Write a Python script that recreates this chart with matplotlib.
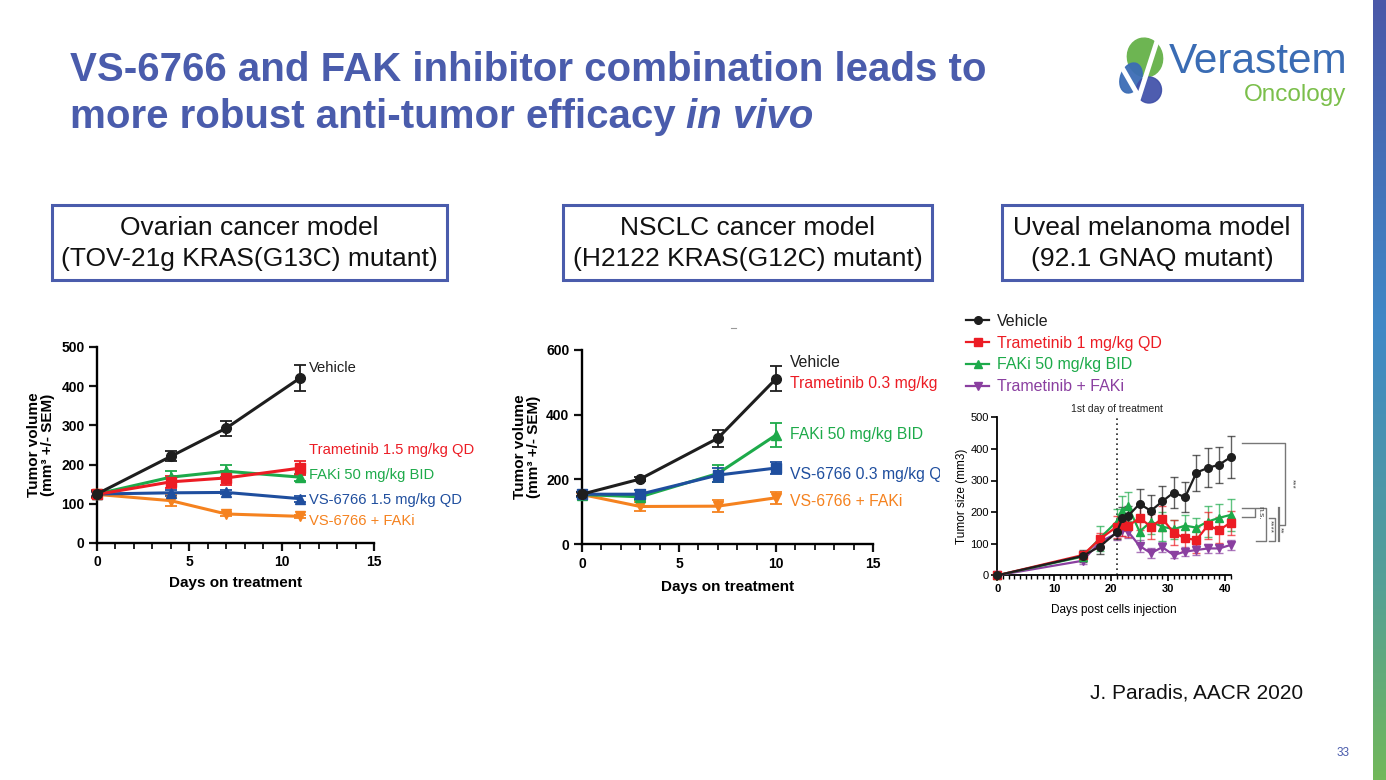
import numpy as np
import matplotlib
matplotlib.use('Agg')
import matplotlib.pyplot as plt
from matplotlib.patches import Rectangle, Ellipse
from matplotlib.lines import Line2D
from matplotlib.colors import LinearSegmentedColormap
from matplotlib.transforms import Bbox, TransformedBbox
from matplotlib.ticker import MultipleLocator

plt.rcParams['font.family'] = ['Liberation Sans', 'DejaVu Sans']

# ---------------- data ----------------
# Ovarian (TOV-21g)
ov_days = [0, 4, 7, 11]
ov_vehicle = [125, 221, 293, 421]
ov_vehicle_err = [8, 13, 19, 33]
ov_tram = [124, 156, 166, 191]
ov_tram_err = [10, 15, 18, 18]
ov_faki = [125, 168, 183, 168]
ov_faki_err = [8, 15, 15, 9]
ov_vs = [125, 128, 129, 113]
ov_vs_err = [6, 8, 5, 8]
ov_combo = [124, 108, 74, 68]
ov_combo_err = [8, 14, 4, 4]
ov_labels = ["Vehicle", "Trametinib 1.5 mg/kg QD", "FAKi 50 mg/kg BID",
             "VS-6766 1.5 mg/kg QD", "VS-6766 + FAKi"]

# NSCLC (H2122)
ns_days = [0, 3, 7, 10]
ns_vehicle = [154, 201, 327, 511]
ns_vehicle_err = [6, 6, 27, 39]
ns_faki = [153, 146, 218, 337]
ns_faki_err = [8, 10, 25, 38]
ns_vs = [154, 154, 213, 235]
ns_vs_err = [8, 14, 22, 20]
ns_combo = [153, 116, 117, 143]
ns_combo_err = [6, 15, 18, 18]
ns_labels = ["Vehicle", "Trametinib 0.3 mg/kg QD", "FAKi 50 mg/kg BID",
             "VS-6766 0.3 mg/kg QD", "VS-6766 + FAKi"]

# Uveal melanoma (92.1)
uv_days = [0, 15, 18, 21, 22, 23, 25, 27, 29, 31, 33, 35, 37, 39, 41]
uv_vehicle = [0, 61, 91, 136, 180, 188, 226, 204, 234, 262, 247, 325, 340, 350, 374]
uv_vehicle_err = [0, 18, 25, 22, 35, 30, 48, 50, 48, 50, 48, 57, 62, 57, 67]
uv_tram = [0, 64, 114, 154, 159, 156, 182, 154, 179, 135, 117, 112, 158, 143, 167]
uv_tram_err = [0, 10, 20, 35, 35, 35, 40, 40, 40, 40, 40, 40, 42, 40, 38]
uv_faki = [0, 59, 117, 170, 205, 218, 138, 170, 154, 146, 157, 151, 170, 182, 191]
uv_faki_err = [0, 10, 40, 40, 45, 45, 40, 40, 45, 30, 35, 30, 50, 45, 50]
uv_combo = [0, 46, 105, 133, 143, 138, 93, 70, 89, 64, 75, 80, 85, 85, 96]
uv_combo_err = [0, 10, 15, 20, 20, 20, 20, 15, 15, 10, 15, 15, 15, 15, 15]
uv_labels = ["Vehicle", "Trametinib 1 mg/kg QD", "FAKi 50 mg/kg BID", "Trametinib + FAKi"]
treatment_start = 21

box_titles = [("Ovarian cancer model", "(TOV-21g KRAS(G13C) mutant)"),
              ("NSCLC cancer model", "(H2122 KRAS(G12C) mutant)"),
              ("Uveal melanoma model", "(92.1 GNAQ mutant)")]

title1 = "VS-6766 and FAK inhibitor combination leads to"
title2a = "more robust anti-tumor efficacy"
title2b = "in vivo"

# ---------------- styles ----------------
W, H = 1386, 780
BLUE_T = '#4A5CAC'
C_BLACK = '#1e1e1e'
C_RED = '#EC1C24'
C_GREEN = '#1DAA4A'
C_BLUE = '#1F4E9E'
C_ORANGE = '#F5821F'
C_PURPLE = '#8A3FA0'

fig = plt.figure(figsize=(W / 100, H / 100), dpi=100)
fig.patch.set_facecolor('white')


def fx(px):
    return px / W


def fy(py):
    return 1 - py / H


def axes_px(x0, x1, ybot, ytop):
    return fig.add_axes([fx(x0), fy(ybot), (x1 - x0) / W, (ybot - ytop) / H])


# ---------------- title ----------------
TS = 29
fig.text(fx(70), fy(81), title1, fontsize=TS, fontweight='bold', color=BLUE_T,
         ha='left', va='baseline')
t2 = fig.text(fx(70), fy(128), title2a, fontsize=TS, fontweight='bold', color=BLUE_T,
              ha='left', va='baseline')
fig.canvas.draw()
r = fig.canvas.get_renderer()
bb = t2.get_window_extent(renderer=r)
fig.text((bb.x1 + 10) / W, fy(128), title2b, fontsize=TS, fontweight='bold',
         style='italic', color=BLUE_T, ha='left', va='baseline')

# ---------------- logo ----------------
lax = fig.add_axes([fx(1110), fy(110), 70 / W, 80 / H])
lax.set_xlim(1110, 1180)
lax.set_ylim(110, 30)
lax.axis('off')
lax.add_patch(Ellipse((1145, 57.5), 35, 39, angle=-15, color='#6DB552'))
lax.add_patch(Ellipse((1131, 78), 21, 31, angle=20, color='#3C6DB5', alpha=0.95))
lax.add_patch(Ellipse((1149, 90), 25, 26, angle=0, color='#3F4FA8', alpha=0.92))
lax.add_line(Line2D([1120, 1139, 1158], [64, 97, 38], color='white', lw=3.5,
                    solid_joinstyle='miter'))
fig.text(fx(1169), fy(73), "Verastem", fontsize=30.5, color='#3A6CB4', ha='left',
         va='baseline')
fig.text(fx(1346), fy(101), "Oncology", fontsize=17.5, color='#7BBF4B', ha='right',
         va='baseline')

# gradient bar at right edge
gax = fig.add_axes([fx(1373), 0, 13 / W, 1])
gcm = LinearSegmentedColormap.from_list('g', [(0, '#4B58A8'), (0.42, '#3F88C6'),
                                              (0.75, '#54A096'), (1, '#72B85A')])
gax.imshow(np.linspace(0, 1, 256)[:, None], aspect='auto', cmap=gcm)
gax.axis('off')

# ---------------- boxes ----------------
box_px = [(52, 447), (563, 932), (1002, 1302)]
for (x0, x1), (l1, l2) in zip(box_px, box_titles):
    fig.add_artist(Rectangle((fx(x0), fy(280)), (x1 - x0) / W, 75 / H,
                             transform=fig.transFigure, fill=False,
                             edgecolor=BLUE_T, lw=2.2))
    xc = fx((x0 + x1) / 2)
    fig.text(xc, fy(228), l1, fontsize=19, ha='center', va='center', color='#111111')
    fig.text(xc, fy(259), l2, fontsize=19, ha='center', va='center', color='#111111')


def style_main(ax, ymax, ystep):
    ax.set_xlim(0, 15)
    ax.set_ylim(0, ymax)
    for s in ['top', 'right']:
        ax.spines[s].set_visible(False)
    for s in ['left', 'bottom']:
        ax.spines[s].set_linewidth(1.7)
    ax.set_xticks([0, 5, 10, 15])
    ax.set_xticklabels(['0', '5', '10', '15'], fontweight='bold', fontsize=10)
    yt = list(range(0, ymax + 1, ystep))
    ax.set_yticks(yt)
    ax.set_yticklabels([str(v) for v in yt], fontweight='bold', fontsize=10)
    ax.xaxis.set_minor_locator(MultipleLocator(1))
    ax.tick_params(which='major', length=6, width=1.6, pad=3, color='#111111')
    ax.tick_params(which='minor', length=4, width=1.3, color='#111111')
    ax.patch.set_alpha(0)


def eb(ax, x, y, e, c, m, ms=7, lw=2.2, cap=4):
    return ax.errorbar(x, y, yerr=e, color=c, marker=m, ms=ms, lw=lw, capsize=cap,
                       capthick=1.3, elinewidth=1.3, clip_on=False, zorder=3)


# ---------------- chart 1 ----------------
ax1 = axes_px(97, 374, 543, 347)
style_main(ax1, 500, 100)
eb(ax1, ov_days, ov_combo, ov_combo_err, C_ORANGE, 'v')
eb(ax1, ov_days, ov_vs, ov_vs_err, C_BLUE, '^')
eb(ax1, ov_days, ov_faki, ov_faki_err, C_GREEN, '^')
eb(ax1, ov_days, ov_tram, ov_tram_err, C_RED, 's')
eb(ax1, ov_days, ov_vehicle, ov_vehicle_err, C_BLACK, 'o')
ax1.set_xlabel("Days on treatment", fontsize=11, fontweight='bold')
ax1.xaxis.set_label_coords(0.5, -0.17)
ax1.set_ylabel("Tumor volume\n(mm³ +/- SEM)", fontsize=11, fontweight='bold',
               linespacing=1.05)
ax1.yaxis.set_label_coords(-0.15, 0.5)
ov_label_y = [446, 237, 174, 110, 56]
ov_colors = [C_BLACK, C_RED, C_GREEN, C_BLUE, C_ORANGE]
for lab, yy, c in zip(ov_labels, ov_label_y, ov_colors):
    ax1.text(11.5, yy, lab, color=c, fontsize=10.6, va='center', ha='left', clip_on=False)

# ---------------- chart 2 ----------------
ax2 = axes_px(582, 873, 544, 350)
style_main(ax2, 600, 200)
eb(ax2, ns_days, ns_combo, ns_combo_err, C_ORANGE, 'v')
eb(ax2, ns_days, ns_faki, ns_faki_err, C_GREEN, '^')
eb(ax2, ns_days, ns_vs, ns_vs_err, C_BLUE, 's')
eb(ax2, ns_days, ns_vehicle, ns_vehicle_err, C_BLACK, 'o')
ax2.set_xlabel("Days on treatment", fontsize=11, fontweight='bold')
ax2.xaxis.set_label_coords(0.5, -0.185)
ax2.set_ylabel("Tumor volume\n(mm³ +/- SEM)", fontsize=11, fontweight='bold',
               linespacing=1.05)
ax2.yaxis.set_label_coords(-0.14, 0.5)
ns_label_y = [560, 495, 340, 216, 130]
clipbox = TransformedBbox(Bbox.from_extents(0, 0, fx(940), 1), fig.transFigure)
for lab, yy, c in zip(ns_labels, ns_label_y, ov_colors):
    t = ax2.text(10.72, yy, lab, color=c, fontsize=11.3, va='center', ha='left')
    t.set_clip_on(True)
    t.set_clip_box(clipbox)
fig.add_artist(Line2D([fx(731), fx(736)], [fy(328), fy(328)], color='#999999', lw=0.8))

# ---------------- chart 3 ----------------
ax3 = axes_px(997.3, 1230.6, 575.3, 417.3)
ax3.set_xlim(0, 41)
ax3.set_ylim(0, 500)
for s in ['top', 'right']:
    ax3.spines[s].set_visible(False)
for s in ['left', 'bottom']:
    ax3.spines[s].set_linewidth(1.3)
ax3.set_xticks([0, 10, 20, 30, 40])
ax3.set_xticklabels(['0', '10', '20', '30', '40'], fontweight='bold', fontsize=8)
ax3.set_yticks([0, 100, 200, 300, 400, 500])
ax3.set_yticklabels(['0', '100', '200', '300', '400', '500'], fontsize=8)
ax3.xaxis.set_minor_locator(MultipleLocator(1))
ax3.tick_params(which='major', length=4, width=1.2, pad=2)
ax3.tick_params(which='minor', length=3, width=1.0)
ax3.patch.set_alpha(0)


def eb3(x, y, e, c, m):
    cont = ax3.errorbar(x, y, yerr=e, color=c, marker=m, ms=5.5, lw=1.6, capsize=3,
                        capthick=1.0, elinewidth=1.0, clip_on=False, zorder=3)
    for art in cont[1] + cont[2]:
        art.set_alpha(0.7)
    return cont


c_combo = eb3(uv_days, uv_combo, uv_combo_err, C_PURPLE, 'v')
c_faki = eb3(uv_days, uv_faki, uv_faki_err, C_GREEN, '^')
c_tram = eb3(uv_days, uv_tram, uv_tram_err, C_RED, 's')
c_veh = eb3(uv_days, uv_vehicle, uv_vehicle_err, C_BLACK, 'o')
ax3.axvline(treatment_start, ymin=0, ymax=1, color='#222222', lw=1.2, ls=(0, (1, 2)))
ax3.text(treatment_start, 512, "1st day of treatment", fontsize=7.5, ha='center',
         va='bottom', color='#222222')
ax3.set_xlabel("Days post cells injection", fontsize=8.5)
ax3.xaxis.set_label_coords(0.5, -0.18)
ax3.set_ylabel("Tumor size (mm3)", fontsize=8.5)
ax3.yaxis.set_label_coords(-0.125, 0.5)

handles = [c_veh[0], c_tram[0], c_faki[0], c_combo[0]]
leg = ax3.legend(handles, uv_labels, loc='upper left',
                 bbox_to_anchor=(fx(966), fy(314)), bbox_transform=fig.transFigure,
                 frameon=False, fontsize=11.5, handlelength=1.45, handletextpad=0.5,
                 labelspacing=0.42, borderpad=0, borderaxespad=0,
                 labelcolor=[C_BLACK, C_RED, C_GREEN, C_PURPLE])

# significance brackets (data coords of chart 3)
gray = '#777777'
br = dict(color=gray, lw=1.0, clip_on=False)
ax3.plot([43, 50.5, 50.5, 49.5], [420, 420, 160, 160], **br)
ax3.plot([49.5, 49.5], [214, 108], color=gray, lw=1.6, clip_on=False)
ax3.plot([43, 45.3, 45.3, 43], [214, 214, 184, 184], **br)
ax3.plot([45.5, 47.2, 47.2, 45.5], [214, 214, 108, 108], **br)
ax3.plot([47.7, 48.8, 48.8, 47.7], [181, 181, 108, 108], **br)
sig = dict(rotation=270, fontsize=6, ha='left', va='center', color='#444444',
           clip_on=False)
ax3.text(51.2, 290, "***", **sig)
ax3.text(45.6, 199, "n.s.", **sig)
ax3.text(47.3, 155, "****", **sig)
ax3.text(49.0, 143, "**", **sig)

# ---------------- footer ----------------
fig.text(fx(1303), fy(693), "J. Paradis, AACR 2020", fontsize=15, ha='right',
         va='center', color='#111111')
fig.text(fx(1350), fy(753), "33", fontsize=8.5, ha='right', va='center', color=BLUE_T)

fig.savefig('out.png', dpi=100)
